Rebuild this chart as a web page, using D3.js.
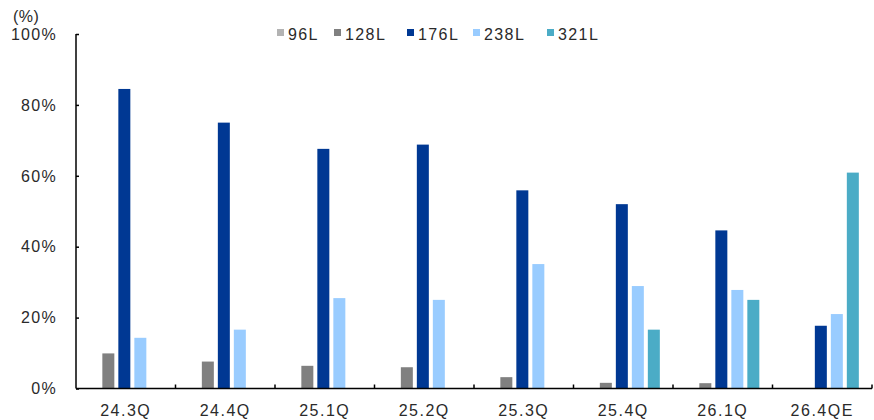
<!DOCTYPE html>
<html><head><meta charset="utf-8">
<script src="https://cdn.jsdelivr.net/npm/d3@7/dist/d3.min.js"></script>
<style>body{margin:0;background:#fff}svg{display:block}text{font-family:"Liberation Sans",Arial,sans-serif;fill:#2a2a2a}</style>
</head><body><svg id="c" width="874" height="420"></svg>
<script>
const categories = ["24.3Q","24.4Q","25.1Q","25.2Q","25.3Q","25.4Q","26.1Q","26.4QE"];
const seriesNames = ["96L","128L","176L","238L","321L"];
const s96  = [0,0,0,0,0,0,0,0];
const s128 = [9.9,7.6,6.4,6.0,3.2,1.6,1.5,0];
const s176 = [84.5,75.0,67.6,68.8,55.9,52.0,44.6,17.7];
const s238 = [14.3,16.6,25.5,25.0,35.1,28.9,27.8,21.0];
const s321 = [0,0,0,0,0,16.6,25.0,60.9];
const yTicks = [0,20,40,60,80,100];
const colors = ["#b3b3b3","#808080","#003893","#99ccff","#4bacc6"];
const seriesValues = [s96,s128,s176,s238,s321];

const svg = d3.select("#c");
const mL = 76, mR = 872, mT = 34, mB = 388.5;
const x = d3.scaleBand().domain(categories).range([mL,mR]).padding(0);
const xs = d3.scaleBand().domain(seriesNames).range([0,x.bandwidth()]).paddingInner(0.25).paddingOuter(0.735).align(0.44);
const y = d3.scaleLinear().domain([0,100]).range([mB,mT]);

// bars
seriesNames.forEach((s,si)=>{
  svg.append("g").selectAll("rect").data(categories.map((c,i)=>({c,v:seriesValues[si][i]})).filter(d=>d.v>0))
    .join("rect")
    .attr("x",d=>x(d.c)+xs(s))
    .attr("width",xs.bandwidth())
    .attr("y",d=>y(d.v))
    .attr("height",d=>mB-y(d.v))
    .attr("fill",colors[si]);
});

// y axis
const ya = svg.append("g").attr("transform",`translate(${mL},0)`)
  .call(d3.axisRight(y).tickValues(yTicks).tickSize(3).tickFormat(""));
ya.select(".domain").attr("stroke","#000").attr("stroke-width",1.5).attr("d",`M0,${mT}V${mB}`);
ya.selectAll(".tick line").attr("stroke","#000").attr("stroke-width",1.5);
svg.append("g").selectAll("text").data(yTicks).join("text")
  .attr("x",57).attr("y",d=>y(d)).attr("dy","0.36em").attr("text-anchor","end")
  .attr("font-size",16).attr("letter-spacing","1.3px").text(d=>d+"%");
svg.append("text").attr("x",13).attr("y",22).attr("font-size",16).attr("letter-spacing","0.5px").text("(%)");

// x axis
const xa = svg.append("g").attr("transform",`translate(0,${mB})`)
  .call(d3.axisBottom(x).tickSize(0).tickFormat(""));
xa.select(".domain").attr("stroke","#000").attr("stroke-width",1.5).attr("d",`M${mL},0H${mR}`);
xa.selectAll(".tick").remove();
const bounds = categories.map(c=>x(c)+x.bandwidth());
svg.append("g").selectAll("line").data(bounds).join("line")
  .attr("x1",d=>d).attr("x2",d=>d).attr("y1",mB).attr("y2",mB-4)
  .attr("stroke","#000").attr("stroke-width",1.5);
svg.append("g").selectAll("text").data(categories).join("text")
  .attr("x",d=>x(d)+x.bandwidth()/2).attr("y",416).attr("text-anchor","middle")
  .attr("font-size",16).attr("letter-spacing","1.5px").text(d=>d);

// legend
const legX = [277,334,407,473,547];
const lg = svg.append("g");
seriesNames.forEach((s,i)=>{
  lg.append("rect").attr("x",legX[i]).attr("y",29).attr("width",7).attr("height",7).attr("fill",colors[i]);
  lg.append("text").attr("x",legX[i]+11).attr("y",39.5).attr("font-size",16).attr("letter-spacing","1.4px").text(s);
});
</script></body></html>
